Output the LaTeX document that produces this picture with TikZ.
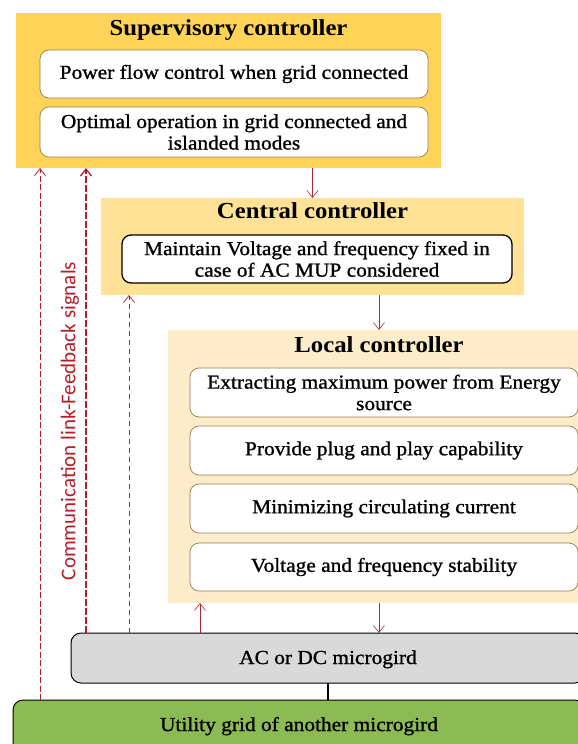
\documentclass[tikz,border=0pt]{standalone}
\usepackage{fontspec}
\setmainfont{Liberation Serif}[FakeStretch=1.08]
\newfontfamily\bodyfont{Liberation Serif}[FakeStretch=1.08,FakeBold=1.1]
\newfontfamily\labelfont{Carlito}
\usetikzlibrary{arrows.meta}
\definecolor{supY}{RGB}{255,211,88}
\definecolor{cenY}{RGB}{255,226,150}
\definecolor{locY}{RGB}{253,236,201}
\definecolor{acG}{RGB}{217,217,217}
\definecolor{grnG}{RGB}{140,187,85}
\definecolor{linkR}{RGB}{180,30,40}
\definecolor{arrR}{RGB}{165,45,50}
\definecolor{boxB}{RGB}{150,125,80}
\begin{document}
\begin{tikzpicture}[x=1pt,y=-1pt,
  panel/.style={anchor=north west, inner sep=0pt, outer sep=0pt, draw=none},
  item/.style={anchor=north west, inner sep=0pt, outer sep=0pt, rounded corners=9pt,
    fill=white, draw=boxB, line width=0.7pt, align=center,
    font=\bodyfont\fontsize{19.8}{21.5}\selectfont},
  title/.style={anchor=base, inner sep=0pt, font=\fontsize{22.9}{26}\selectfont\bfseries},
  gridtext/.style={anchor=base, inner sep=0pt, font=\bodyfont\fontsize{19.8}{21.5}\selectfont},
  arr/.style={draw=arrR, line width=0.6pt, -{Straight Barb[length=7pt,width=11pt]}},
  link/.style={draw=linkR, -{Straight Barb[length=7pt,width=11pt]}}
]
\useasboundingbox (0,0) rectangle (578,744);
\clip (0,0) rectangle (578,744);
\fill[white] (0,0) rectangle (578,744);

% panels
\node[panel, fill=supY, minimum width=425pt, minimum height=155pt] (sup) at (16,13) {};
\node[panel, fill=cenY, minimum width=423pt, minimum height=97pt] (cen) at (101,198) {};
\node[panel, fill=locY, minimum width=422pt, minimum height=273pt] (loc) at (168,330) {};

\node[title] (supT) at (228.5,35) {Supervisory controller};
\node[title] (cenT) at (312.5,218) {Central controller};
\node[title] (locT) at (379,352) {Local controller};

% supervisory items
\node[item, minimum width=388pt, minimum height=48pt] (s1) at (40,50) {Power flow control when grid connected};
\node[item, minimum width=388pt, minimum height=50pt] (s2) at (40,107) {Optimal operation in grid connected and\\islanded modes};

% central item
\node[item, draw=black, line width=1.3pt, minimum width=390pt, minimum height=48pt] (c1) at (122,235) {Maintain Voltage and frequency fixed in\\case of AC MUP considered};

% local items
\node[item, minimum width=388pt, minimum height=49pt] (l1) at (190,368) {Extracting maximum power from Energy\\source};
\node[item, minimum width=388pt, minimum height=49pt] (l2) at (190,426) {Provide plug and play capability};
\node[item, minimum width=388pt, minimum height=49pt] (l3) at (190,484) {Minimizing circulating current};
\node[item, minimum width=388pt, minimum height=48pt] (l4) at (190,543) {Voltage and frequency stability};

% grids
\node[item, fill=acG, draw=black, line width=1pt, rounded corners=10pt, minimum width=514pt, minimum height=50pt] (ac) at (71,633) {};
\node[gridtext] (acT) at (328,664) {AC or DC microgird};
\node[item, fill=grnG, draw=black, line width=1pt, rounded corners=10pt, minimum width=572pt, minimum height=60pt] (grn) at (13,700) {};
\node[gridtext] (grnT) at (299,731) {Utility grid of another microgird};

% x positions of connectors
\coordinate (xd1) at (40,0);
\coordinate (xd2) at (86,0);
\coordinate (xd3) at (129,0);
\coordinate (xup) at (200,0);

% solid arrows
\draw[arr] (sup.south -| cen.north) -- (cen.north);
\draw[arr] (cen.south -| loc.north) -- (loc.north);
\draw[arr] (loc.south) -- (loc.south |- ac.north);
\draw[arr] (ac.north -| xup) -- (loc.south -| xup);

% ac to grid line
\draw[black, line width=1.4pt] (ac.south) -- (ac.south |- grn.north);

% feedback links
\draw[link, line width=0.8pt, dash pattern=on 6pt off 2.5pt] (grn.north -| xd1) -- (sup.south -| xd1);
\draw[link, line width=1.3pt, dash pattern=on 7pt off 2pt] (ac.north -| xd2) -- (sup.south -| xd2);
\draw[link, line width=0.7pt, dash pattern=on 5pt off 4pt] (ac.north -| xd3) -- (cen.south -| xd3);

\node[rotate=90, inner sep=0pt, text=linkR, font=\labelfont\fontsize{21}{24}\selectfont] (lab) at (70,421) {Communication link-Feedback signals};
\end{tikzpicture}
\end{document}
